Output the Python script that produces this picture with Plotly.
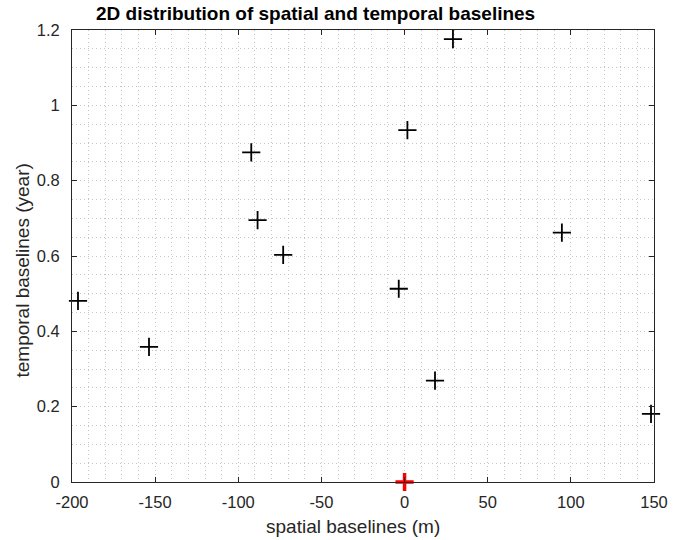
import plotly.graph_objects as go

# data
spatial = [-196.4, -153.7, -92.2, -88.4, -73.0, -3.5, 1.7, 29.1, 18.3, 94.6, 148.2]
temporal = [0.481, 0.359, 0.875, 0.695, 0.603, 0.513, 0.934, 1.176, 0.269, 0.662, 0.181]
ref_x = [0]
ref_y = [0]
title = "2D distribution of spatial and temporal baselines"
xlabel = "spatial baselines (m)"
ylabel = "temporal baselines (year)"
xticks = [-200, -150, -100, -50, 0, 50, 100, 150]
yticks = [0, 0.2, 0.4, 0.6, 0.8, 1.0, 1.2]
yticklabels = ["0", "0.2", "0.4", "0.6", "0.8", "1", "1.2"]

W, H = 694, 540
L, R, T, B = 71.5, 40, 30, 58

fig = go.Figure()
fig.add_trace(go.Scatter(x=spatial, y=temporal, mode="markers",
                         marker=dict(symbol="cross-thin", size=13,
                                     line=dict(color="black", width=1.8)),
                         showlegend=False, cliponaxis=False))
fig.add_trace(go.Scatter(x=ref_x, y=ref_y, mode="markers",
                         marker=dict(symbol="cross-thin", size=13,
                                     line=dict(color="#ff0000", width=3.5)),
                         showlegend=False, cliponaxis=False))

grid_color = "#c6c6c6"
grid_dash = "1px,3px"
axis_common = dict(
    showline=True, linecolor="#262626", linewidth=1, mirror="ticks",
    ticks="inside", ticklen=5, tickcolor="#262626", tickwidth=1,
    showgrid=True, gridcolor=grid_color, griddash=grid_dash, gridwidth=1,
    zeroline=False,
    tickfont=dict(family="Liberation Sans", size=16.5, color="#262626"),
)

fig.update_xaxes(range=[-200, 150], tickvals=xticks,
                 ticktext=[str(v) for v in xticks],
                 minor=dict(dtick=10, showgrid=True, gridcolor=grid_color, griddash=grid_dash, ticks=""),
                 ticklabelstandoff=5,
                 **axis_common)
fig.update_yaxes(range=[0, 1.2], tickvals=yticks, ticktext=yticklabels,
                 minor=dict(dtick=0.05, showgrid=True, gridcolor=grid_color, griddash=grid_dash, ticks=""),
                 ticklabelstandoff=8,
                 **axis_common)

lab_font = dict(family="Liberation Sans", size=19, color="#262626")
fig.update_layout(
    width=W, height=H,
    margin=dict(l=L, r=R, t=T, b=B),
    plot_bgcolor="white", paper_bgcolor="white",
    title=dict(text="<b>" + title + "</b>", x=96 / W, xanchor="left", xref="container",
               y=1 - 13 / H, yanchor="middle", yref="container",
               font=dict(family="Liberation Sans", size=19, color="black")),
    annotations=[
        dict(text=xlabel, xref="paper", yref="paper", showarrow=False,
             x=(353 - L) / (W - L - R), xanchor="center",
             y=-(526 - (H - B)) / (H - T - B), yanchor="middle", font=lab_font),
        dict(text=ylabel, xref="paper", yref="paper", showarrow=False, textangle=-90,
             x=-(L - 21) / (W - L - R), xanchor="center",
             y=(H - B - 271) / (H - T - B), yanchor="middle", font=lab_font),
    ],
)

fig.write_html("out.html")
